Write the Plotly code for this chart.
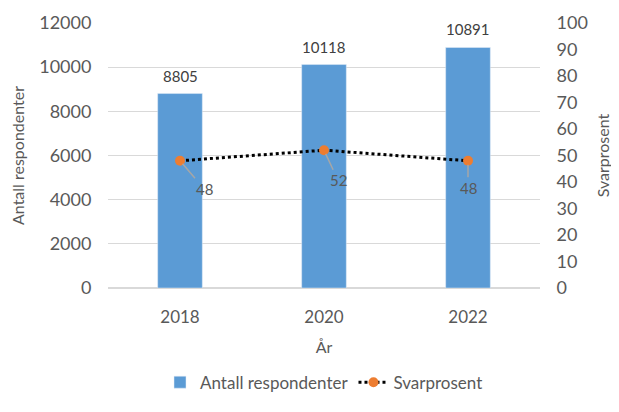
import plotly.graph_objects as go

years = ["2018", "2020", "2022"]
respondents = [8805, 10118, 10891]
response_rate = [48, 52, 48]

FONT = "Lato"
GRAY = "#595959"

fig = go.Figure()
fig.add_trace(go.Bar(
    x=years, y=respondents, name="Antall respondenter",
    marker_color="#5B9BD5", width=0.31,
))
fig.add_trace(go.Scatter(
    x=years, y=response_rate, name="Svarprosent", yaxis="y2",
    mode="lines+markers",
    line=dict(color="black", width=3, dash="dot"),
    marker=dict(color="#ED7D31", size=10),
))

# bar value labels
for i, v in enumerate(respondents):
    fig.add_annotation(
        x=i, y=v, xref="x", yref="y", text=str(v), showarrow=False,
        yanchor="bottom", yshift=7,
        font=dict(size=15, color="#404040", family=FONT),
    )

# line value labels with leader lines
offsets = [(24, 28), (14, 30), (0, 27)]
for i, (y, (ax, ay)) in enumerate(zip(response_rate, offsets)):
    fig.add_annotation(
        x=i, y=y, xref="x", yref="y2", text=str(y),
        ax=ax, ay=ay, showarrow=True, arrowhead=0, arrowwidth=1.5,
        arrowcolor="#A6A6A6", standoff=4,
        font=dict(size=15, color=GRAY, family=FONT),
    )

fig.update_layout(
    width=611, height=404,
    margin=dict(l=100, r=79, t=15, b=118),
    paper_bgcolor="white", plot_bgcolor="white",
    font=dict(family=FONT, size=17, color=GRAY),
    showlegend=True,
    legend=dict(orientation="h", x=0.5, xanchor="center", y=-0.425, yanchor="bottom",
                font=dict(size=17, color=GRAY, family=FONT), traceorder="normal"),
    xaxis=dict(type="category", range=[-0.5, len(years) - 0.5], automargin=False,
               title=dict(text="År", standoff=15, font=dict(size=16, family=FONT, color=GRAY)),
               showgrid=False, tickfont=dict(size=17),
               showline=False, ticks="outside", ticklen=14, tickcolor="white"),
    yaxis=dict(title=dict(text="Antall respondenter", standoff=10,
                          font=dict(size=16, family=FONT, color=GRAY)),
               range=[0, 12000], dtick=2000, tickformat="d", automargin=False,
               tickfont=dict(size=18),
               showgrid=True, gridcolor="#D9D9D9",
               gridwidth=1, zeroline=True, zerolinecolor="#D9D9D9",
               ticks="outside", ticklen=12, tickcolor="white"),
    yaxis2=dict(title=dict(text="Svarprosent", standoff=10,
                           font=dict(size=16, family=FONT, color=GRAY)),
                range=[0, 100], dtick=10, overlaying="y", side="right", automargin=False,
                tickfont=dict(size=18),
                showgrid=False, zeroline=False,
                ticks="outside", ticklen=12, tickcolor="white"),
)

fig.write_html("out.html")
